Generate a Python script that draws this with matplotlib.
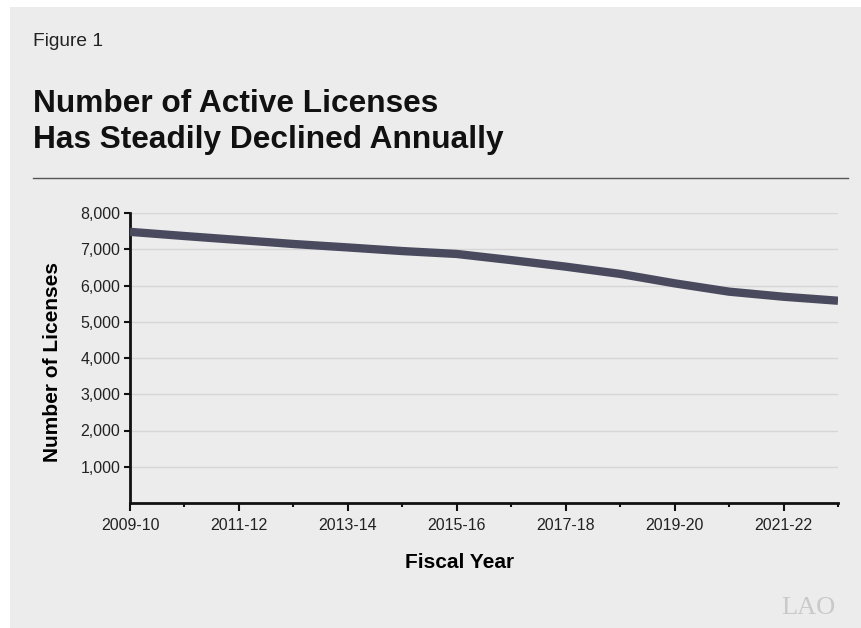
import numpy as np
import matplotlib.pyplot as plt
from matplotlib.patches import Rectangle
from matplotlib.lines import Line2D
from matplotlib.ticker import FuncFormatter, MultipleLocator

# Datos
anios = ['2009-10', '2010-11', '2011-12', '2012-13', '2013-14', '2014-15', '2015-16',
         '2016-17', '2017-18', '2018-19', '2019-20', '2020-21', '2021-22', '2022-23']
licencias = [7480, 7365, 7255, 7145, 7050, 6950, 6870,
             6700, 6520, 6320, 6060, 5830, 5690, 5580]
etiquetas_x = ['2009-10', '2011-12', '2013-14', '2015-16', '2017-18', '2019-20', '2021-22']
valores_y = [1000, 2000, 3000, 4000, 5000, 6000, 7000, 8000]

plt.rcParams['font.family'] = ['Liberation Sans', 'DejaVu Sans']
fondo = '#ebeceb'

fig = plt.figure(figsize=(8.61, 6.28), dpi=100)
fig.patch.set_facecolor('white')
fig.patches.append(Rectangle((10/861, 0), 1, 1 - 7/628, transform=fig.transFigure,
                             facecolor=fondo, edgecolor='none', zorder=-10))

# Encabezado
fig.text(33/861, 1 - 42/628, 'Figure 1', fontsize=13.8, color='#222222', va='center')
fig.text(33/861, 1 - 122/628, 'Number of Active Licenses\nHas Steadily Declined Annually',
         fontsize=22.8, fontweight='bold', color='#111111', va='center', linespacing=1.27)
fig.add_artist(Line2D([33/861, 848/861], [1 - 178/628, 1 - 178/628],
                      transform=fig.transFigure, color='#555555', lw=1))

ax = fig.add_axes([130/861, 1 - 503/628, (838 - 130)/861, (503 - 213)/628])
ax.set_facecolor(fondo)

x = np.arange(len(anios))
ax.plot(x, licencias, color='#4a4a5f', lw=6, solid_capstyle='butt',
        solid_joinstyle='round', zorder=3)

ax.set_xlim(0, len(anios) - 1)
ax.set_ylim(0, 8000)
ax.set_yticks(valores_y)
ax.yaxis.set_major_formatter(FuncFormatter(lambda v, p: f'{int(v):,}'))
ax.set_xticks([anios.index(a) for a in etiquetas_x])
ax.set_xticklabels(etiquetas_x)
ax.xaxis.set_minor_locator(MultipleLocator(1))

ax.grid(axis='y', color='#d6d6d6', lw=1)
ax.set_axisbelow(True)
for s in ['top', 'right']:
    ax.spines[s].set_visible(False)
for s in ['left', 'bottom']:
    ax.spines[s].set_linewidth(2)
    ax.spines[s].set_color('#111111')

ax.tick_params(axis='both', which='major', labelsize=11.5, labelcolor='#222222',
               width=1.5, color='#111111')
ax.tick_params(axis='x', which='major', length=6, pad=5)
ax.tick_params(axis='x', which='minor', length=3, width=1.5, color='#111111')
ax.tick_params(axis='y', which='major', length=4, pad=3)

ax.set_xlabel('Fiscal Year', fontsize=15, fontweight='bold', va='center')
ax.xaxis.set_label_coords((460 - 130)/708, (503 - 563)/290)
ax.set_ylabel('Number of Licenses', fontsize=15, fontweight='bold', va='center')
ax.yaxis.set_label_coords((53 - 130)/708, (503 - 362)/290)

fig.text(835/861, 1 - 608/628, 'LAO', fontsize=19, family='Liberation Serif',
         color='#c9c9c9', ha='right', va='center')

fig.savefig('out.png', dpi=100, facecolor=fig.get_facecolor())
